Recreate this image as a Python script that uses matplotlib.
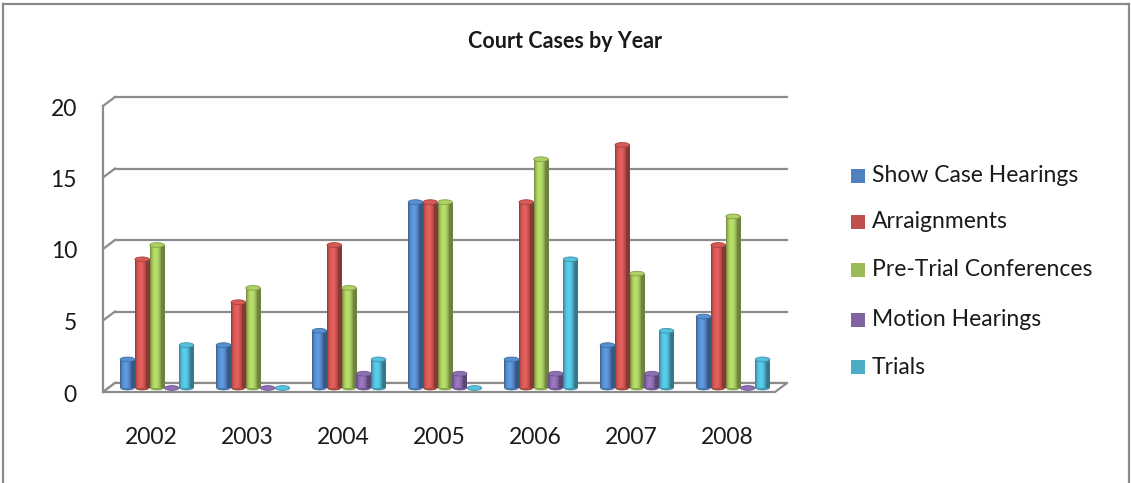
import numpy as np
import matplotlib
matplotlib.use("Agg")
import matplotlib.pyplot as plt
import matplotlib.transforms as mtransforms
from matplotlib.patches import Ellipse, Polygon, Rectangle
from matplotlib.lines import Line2D
from matplotlib.colors import to_rgb

years = ["2002", "2003", "2004", "2005", "2006", "2007", "2008"]
series = ["Show Case Hearings", "Arraignments", "Pre-Trial Conferences",
          "Motion Hearings", "Trials"]
show_case = [2, 3, 4, 13, 2, 3, 5]
arraignments = [9, 6, 10, 13, 13, 17, 10]
pre_trial = [10, 7, 7, 13, 16, 8, 12]
motion = [0, 0, 1, 1, 1, 1, 0]
trials = [3, 0, 2, 0, 9, 4, 2]
values = [show_case, arraignments, pre_trial, motion, trials]
colors = ["#4F81BD", "#C0504D", "#9BBB59", "#8064A2", "#4BACC6"]
yticks = [0, 5, 10, 15, 20]

plt.rcParams['font.family'] = ['Lato', 'DejaVu Sans']
W, H = 1131, 483
fig = plt.figure(figsize=(W / 100, H / 100), dpi=100)

# plot plane of the bars (pixel layout)
ax = fig.add_axes([109 / W, (H - 388) / H, 672 / W, 286 / H])
ax.set_xlim(-0.5, 6.5)
ax.set_ylim(0, 20)
ax.axis("off")

back = mtransforms.offset_copy(ax.transData, fig=fig, x=6, y=5, units="dots")
front = mtransforms.offset_copy(ax.transData, fig=fig, x=-6, y=-4, units="dots")
grid_c = "#8c8c8c"

# back wall gridlines + left wall
for t in yticks:
    ax.plot([-0.5, 6.5], [t, t], color=grid_c, lw=1.6, transform=back,
            clip_on=False, zorder=1)
    p0 = front.transform((-0.5, t))
    p1 = back.transform((-0.5, t))
    ax.add_line(Line2D([p0[0] / W, p1[0] / W], [p0[1] / H, p1[1] / H],
                       color=grid_c, lw=1.6, zorder=1,
                       transform=fig.transFigure, clip_on=False))
ax.plot([-0.5, -0.5], [0, 20], color=grid_c, lw=1.6, transform=front,
        clip_on=False, zorder=1)

# floor
pts = [front.transform((-0.5, 0)), front.transform((6.5, 0)),
       back.transform((6.5, 0)), back.transform((-0.5, 0))]
floor = Polygon([(px / W, py / H) for px, py in pts], closed=True,
                facecolor="white", edgecolor=grid_c, lw=1.6, zorder=2,
                transform=fig.transFigure, clip_on=False)
ax.add_patch(floor)

# cylinder bars
bw = 0.154
x = np.arange(len(years))
prof = np.linspace(0, 1, 40)
shade = 0.70 + 0.50 * np.sin(np.pi * np.clip(prof * 1.3, 0, 1)) ** 0.7
for i, (vals, c) in enumerate(zip(values, colors)):
    pos = x + (i - 2) * bw
    bars = ax.bar(pos, vals, width=bw, color=c, label=series[i], zorder=3,
                  linewidth=0)
    base = np.array(to_rgb(c))
    img = np.clip(base[None, None, :] * shade[None, :, None], 0, 1)
    for b, v in zip(bars, vals):
        if v > 0:
            im = ax.imshow(img, extent=(b.get_x(), b.get_x() + bw, 0, v),
                           aspect="auto", zorder=3.5, interpolation="bilinear")
            im.set_clip_path(b)
            ax.add_patch(Ellipse((b.get_x() + bw / 2, 0), bw * 0.98, 0.33,
                                 facecolor=base * 0.9, lw=0, zorder=2.9,
                                 clip_on=False))
        top = np.clip(base * 1.12, 0, 1)
        ax.add_patch(Ellipse((b.get_x() + bw / 2, v), bw * 0.98, 0.33,
                             facecolor=top, edgecolor=base * 0.85, lw=0.6,
                             zorder=4, clip_on=False))
ax.set_xlim(-0.5, 6.5)
ax.set_ylim(0, 20)

# axis labels
for t in yticks:
    px, py = front.transform((-0.5, t))
    fig.text((px - 26) / W, (py - 3) / H, str(t), ha="right", va="center",
             fontsize=16.5, color="#1a1a1a")
for xi, yr in zip(x, years):
    px, _ = front.transform((xi, 0))
    fig.text(px / W, (H - 437) / H, yr, ha="center", va="center",
             fontsize=16.5, color="#1a1a1a")

fig.text(565 / W, (H - 42) / H, "Court Cases by Year", ha="center",
         va="center", fontsize=15.5, fontweight="bold", color="#1a1a1a")

# legend
leg_y = [176, 222, 270, 320, 367]
for name, c, ly in zip(series, colors, leg_y):
    fig.add_artist(Rectangle((851 / W, (H - ly - 7) / H), 14 / W, 14 / H,
                             facecolor=c, edgecolor="none",
                             transform=fig.transFigure))
    fig.text(872 / W, (H - ly) / H, name, ha="left", va="center",
             fontsize=16.5, color="#1a1a1a")

# outer chart border
for xs, ys in [([3, 3], [0, H - 4]), ([3, 1129], [H - 4, H - 4]),
               ([1129, 1129], [H - 4, 0])]:
    fig.add_artist(Line2D([v / W for v in xs], [v / H for v in ys],
                          color="#8a8a8a", lw=1.6))

fig.savefig("out.png", dpi=100)
